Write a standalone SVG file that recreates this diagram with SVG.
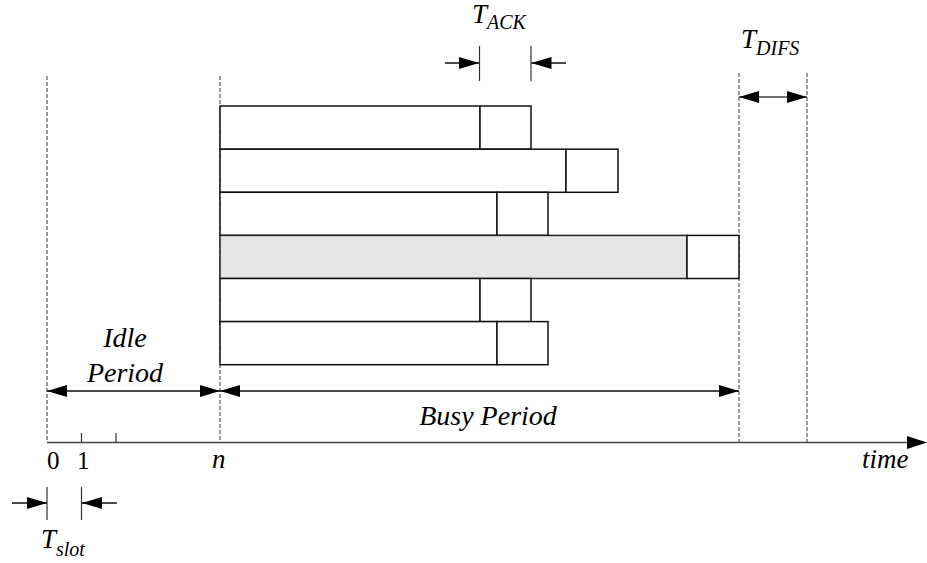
<svg xmlns="http://www.w3.org/2000/svg" width="927" height="563" viewBox="0 0 927 563">
<defs>
<style>
.dash{stroke:#666;stroke-width:1.3;stroke-dasharray:4,2;fill:none}
.box{fill:#fff;stroke:#111;stroke-width:1.5}
.gray{fill:#e6e6e6;stroke:#222;stroke-width:1.5}
.ln{stroke:#111;stroke-width:1.5;fill:none}
.ax{stroke:#444;stroke-width:1.5;fill:none}
.tick{stroke:#333;stroke-width:1.2}
text{font-family:'Liberation Serif','DejaVu Serif',serif;fill:#000}
.t{font-style:italic;font-size:27px}
.big{font-size:28px}
.d{font-size:25px}
.sub{font-size:20px}
</style>
<marker id="ah" markerUnits="userSpaceOnUse" markerWidth="20" markerHeight="14" refX="20" refY="7" orient="auto-start-reverse" viewBox="0 0 20 14">
<path d="M0,1 L20,7 L0,13 z" fill="#000"/>
</marker>
</defs>
<g id="guides">
<line class="dash" x1="47" y1="76" x2="47" y2="442"/>
<line class="dash" x1="220" y1="76" x2="220" y2="442"/>
<line class="dash" x1="739" y1="73" x2="739" y2="442"/>
<line class="dash" x1="807" y1="73" x2="807" y2="442"/>
</g>
<g id="frames">
<g id="row1"><rect class="box" x="220" y="106" width="260" height="43.2"/><rect class="box" x="480" y="106" width="51" height="43.2"/></g>
<g id="row2"><rect class="box" x="220" y="149.2" width="346" height="43.1"/><rect class="box" x="566" y="149.2" width="52" height="43.1"/></g>
<g id="row3"><rect class="box" x="220" y="192.3" width="277" height="43.1"/><rect class="box" x="497" y="192.3" width="51" height="43.1"/></g>
<g id="row4"><rect class="gray" x="220" y="235.4" width="467" height="43.1"/><rect class="box" x="687" y="235.4" width="52" height="43.1"/></g>
<g id="row5"><rect class="box" x="220" y="278.5" width="260" height="43.1"/><rect class="box" x="480" y="278.5" width="51" height="43.1"/></g>
<g id="row6"><rect class="box" x="220" y="321.6" width="277" height="43.1"/><rect class="box" x="497" y="321.6" width="51" height="43.1"/></g>
</g>
<g id="axis">
<line class="ax" x1="47" y1="442.5" x2="908" y2="442.5"/>
<path d="M907,436 L927,442.5 L907,449 z" fill="#000"/>
<line class="tick" x1="81.5" y1="433" x2="81.5" y2="442"/>
<line class="tick" x1="116" y1="433" x2="116" y2="442"/>
</g>
<g id="connectors">
<line class="ln" x1="47" y1="391" x2="220" y2="391" marker-start="url(#ah)" marker-end="url(#ah)"/>
<line class="ln" x1="220" y1="391" x2="739" y2="391" marker-start="url(#ah)" marker-end="url(#ah)"/>
<line class="ax" x1="739" y1="97" x2="807" y2="97" marker-start="url(#ah)" marker-end="url(#ah)"/>
<line class="tick" x1="479.5" y1="46" x2="479.5" y2="81"/>
<line class="tick" x1="531" y1="46" x2="531" y2="81"/>
<line class="ln" x1="445" y1="63" x2="479" y2="63" marker-end="url(#ah)"/>
<line class="ln" x1="566" y1="63" x2="531.5" y2="63" marker-end="url(#ah)"/>
<line class="tick" x1="47" y1="487" x2="47" y2="520"/>
<line class="tick" x1="81.5" y1="487" x2="81.5" y2="520"/>
<line class="ln" x1="12" y1="503" x2="47" y2="503" marker-end="url(#ah)"/>
<line class="ln" x1="117" y1="503" x2="82" y2="503" marker-end="url(#ah)"/>
</g>
<g id="labels">
<text class="t" x="472" y="23">T<tspan class="sub" dy="6">ACK</tspan></text>
<text class="t" x="741" y="48">T<tspan class="sub" dy="7">DIFS</tspan></text>
<text class="t" x="41" y="548">T<tspan class="sub" dy="8">slot</tspan></text>
<text class="t big" x="125" y="347" text-anchor="middle">Idle</text>
<text class="t big" x="125" y="382" text-anchor="middle">Period</text>
<text class="t big" x="488" y="425" text-anchor="middle">Busy Period</text>
<text class="d" x="47" y="469">0</text>
<text class="d" x="77" y="469">1</text>
<text class="t" x="212" y="468">n</text>
<text class="t" x="862" y="468">time</text>
</g>
</svg>
